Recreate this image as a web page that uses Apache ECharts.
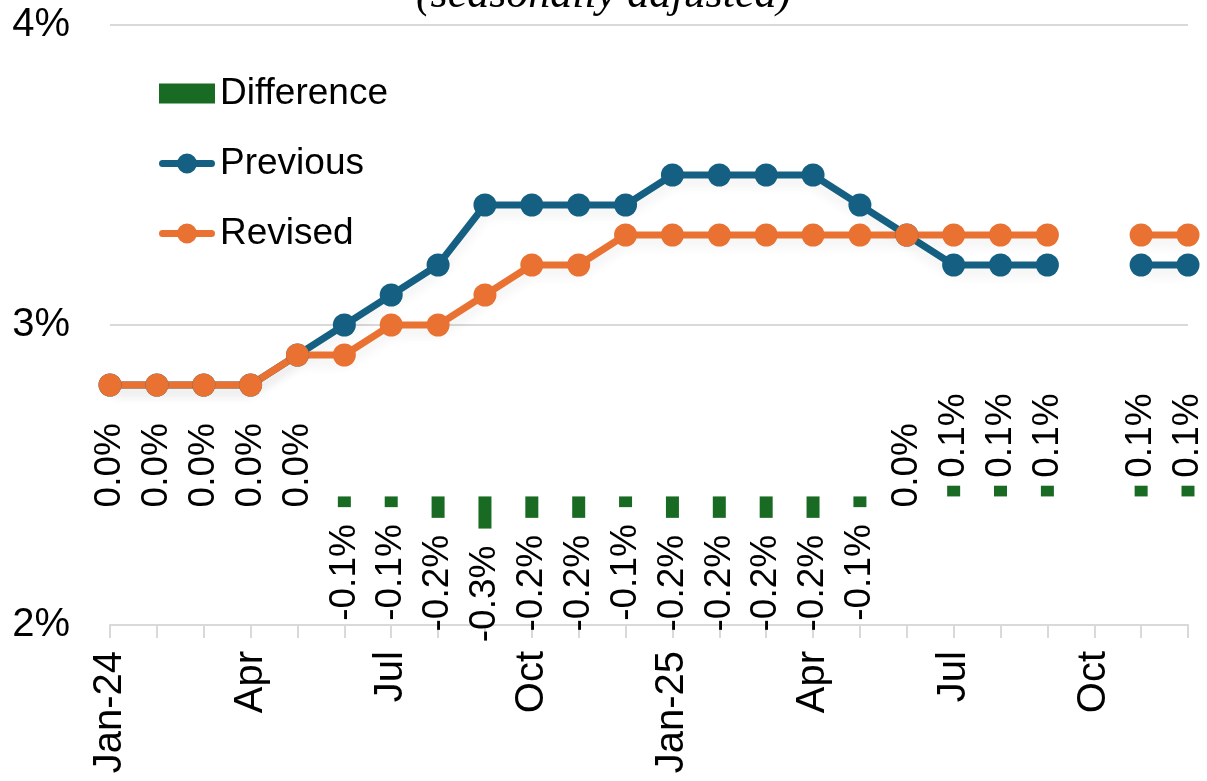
<!DOCTYPE html>
<html>
<head>
<meta charset="utf-8">
<script src="https://cdn.jsdelivr.net/npm/echarts@6/dist/echarts.min.js"></script>
<style>
  html, body { margin: 0; padding: 0; background: #fff; }
  #chart { width: 1207px; height: 781px; }
</style>
</head>
<body>
<div id="chart"></div>
<script>
const months = ['Jan-24', 'Feb', 'Mar', 'Apr', 'May', 'Jun', 'Jul', 'Aug', 'Sep', 'Oct', 'Nov', 'Dec',
  'Jan-25', 'Feb', 'Mar', 'Apr', 'May', 'Jun', 'Jul', 'Aug', 'Sep', 'Oct', 'Nov', 'Dec'];
const previous = [2.8, 2.8, 2.8, 2.8, 2.9, 3.0, 3.1, 3.2, 3.4, 3.4, 3.4, 3.4,
  3.5, 3.5, 3.5, 3.5, 3.4, 3.3, 3.2, 3.2, 3.2, null, 3.2, 3.2];
const revised = [2.8, 2.8, 2.8, 2.8, 2.9, 2.9, 3.0, 3.0, 3.1, 3.2, 3.2, 3.3,
  3.3, 3.3, 3.3, 3.3, 3.3, 3.3, 3.3, 3.3, 3.3, null, 3.3, 3.3];
const difference = [0.0, 0.0, 0.0, 0.0, 0.0, -0.1, -0.1, -0.2, -0.3, -0.2, -0.2, -0.1,
  -0.2, -0.2, -0.2, -0.2, -0.1, 0.0, 0.1, 0.1, 0.1, null, 0.1, 0.1];

const font = 'Arial, "Liberation Sans", sans-serif';
const GREEN = '#196B24';
const BLUE = '#156082';
const ORANGE = '#E97132';

// legend icon: thick line with a dot in the middle
const lineIcon = 'path://M3.5,6.5 L19,6.5 L19,13.5 L3.5,13.5 A3.5,3.5 0 0,1 3.5,6.5 Z ' +
  'M37,6.5 L52.5,6.5 A3.5,3.5 0 0,1 52.5,13.5 L37,13.5 Z ' +
  'M18,10 A10,10 0 1,1 38,10 A10,10 0 1,1 18,10 Z';

// rotated labels: above the bar for positives, below for negatives
const diffData = difference.map(function (v) {
  if (v === null) return null;
  let label;
  if (v < 0) {
    label = { position: 'bottom', align: 'right', distance: 17 };
  } else if (v > 0) {
    label = { position: 'top', align: 'left', distance: 8 };
  } else {
    label = { position: 'top', align: 'left', distance: -11 };
  }
  return { value: v, label: label };
});

const chart = echarts.init(document.getElementById('chart'));
chart.setOption({
  animation: false,
  title: {
    text: '(seasonally adjusted)',
    left: 'center',
    top: -32,
    textStyle: {
      fontFamily: '"Liberation Serif", "DejaVu Serif", serif',
      fontStyle: 'italic',
      fontWeight: 'normal',
      fontSize: 44,
      color: '#000'
    }
  },
  grid: { left: 110, right: 19, top: 25, bottom: 156 },
  legend: {
    orient: 'vertical',
    left: 154,
    top: 70,
    itemWidth: 56,
    itemHeight: 20,
    itemGap: 33,
    symbolKeepAspect: false,
    textStyle: { fontFamily: font, fontSize: 37, color: '#000' },
    data: [
      { name: 'Difference', icon: 'rect' },
      { name: 'Previous', icon: lineIcon },
      { name: 'Revised', icon: lineIcon }
    ]
  },
  xAxis: {
    type: 'category',
    data: months,
    boundaryGap: false,
    axisLine: { onZero: false, lineStyle: { color: '#D9D9D9', width: 2 } },
    axisTick: { show: true, interval: 0, length: 13, lineStyle: { color: '#D9D9D9', width: 2 } },
    axisLabel: {
      interval: 2,
      rotate: 90,
      margin: 26,
      fontFamily: font,
      fontSize: 40,
      color: '#000'
    }
  },
  yAxis: [
    {
      type: 'value',
      min: 2,
      max: 4,
      interval: 1,
      axisLine: { show: false },
      axisTick: { show: false },
      axisLabel: {
        formatter: '{value}%',
        margin: 40,
        fontFamily: font,
        fontSize: 40,
        color: '#000'
      },
      splitLine: { lineStyle: { color: '#D9D9D9', width: 2 } }
    },
    {
      type: 'value',
      min: -1.2,
      max: 4.4,
      show: false,
      splitLine: { show: false }
    }
  ],
  series: [
    {
      name: 'Difference',
      type: 'bar',
      yAxisIndex: 1,
      barWidth: 13,
      itemStyle: { color: GREEN },
      label: {
        show: true,
        rotate: 90,
        verticalAlign: 'middle',
        fontFamily: font,
        fontSize: 37,
        color: '#000',
        formatter: function (p) { return p.value.toFixed(1) + '%'; }
      },
      data: diffData
    },
    {
      name: 'Previous',
      type: 'line',
      symbol: 'circle',
      symbolSize: 23,
      connectNulls: false,
      itemStyle: { color: BLUE },
      lineStyle: { width: 7, color: BLUE, shadowColor: 'rgba(0,0,0,0.07)', shadowBlur: 12, shadowOffsetY: 7 },
      data: previous
    },
    {
      name: 'Revised',
      type: 'line',
      symbol: 'circle',
      symbolSize: 23,
      connectNulls: false,
      itemStyle: { color: ORANGE },
      lineStyle: { width: 7, color: ORANGE, shadowColor: 'rgba(0,0,0,0.07)', shadowBlur: 12, shadowOffsetY: 7 },
      data: revised
    }
  ]
});
</script>
</body>
</html>
